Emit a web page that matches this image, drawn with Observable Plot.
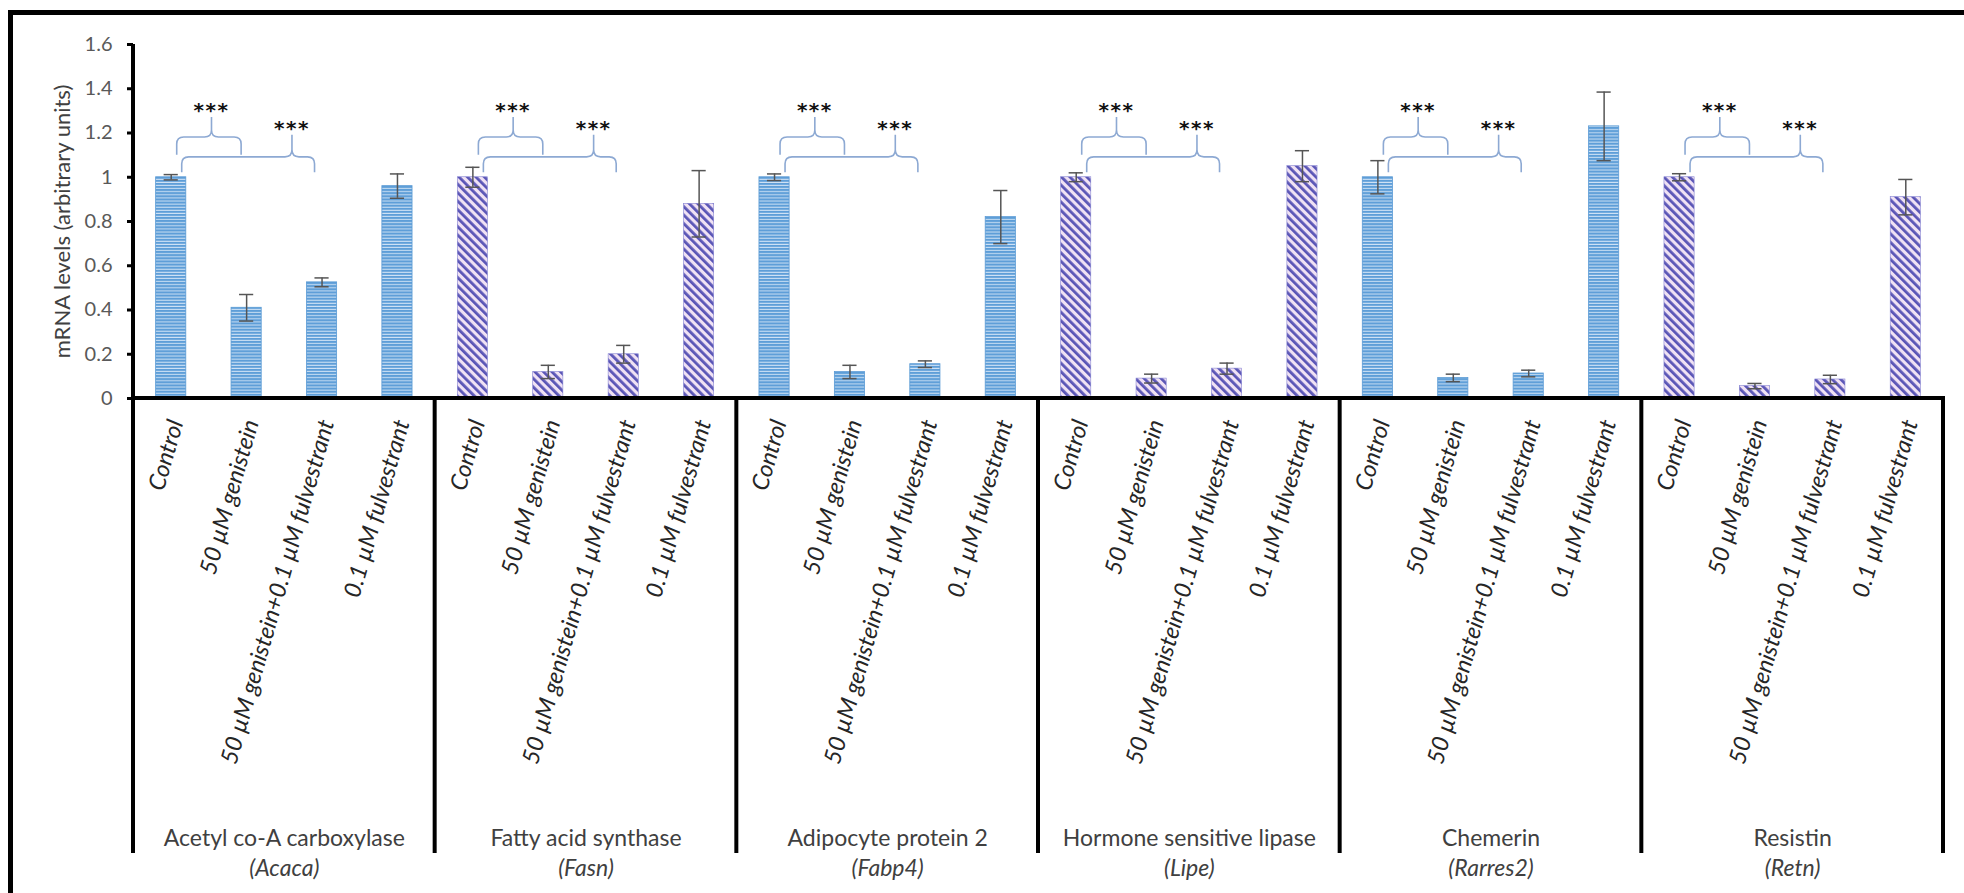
<!DOCTYPE html>
<html>
<head>
<meta charset="utf-8">
<script src="https://cdn.jsdelivr.net/npm/d3@7"></script>
<script src="https://cdn.jsdelivr.net/npm/@observablehq/plot@0.6"></script>
<style>
html, body { margin: 0; padding: 0; background: #fff; }
#wrap { position: relative; width: 1964px; height: 893px; overflow: hidden; }
#wrap svg { position: absolute; left: 0; top: 0; }
#border { position: absolute; left: 8px; top: 10px; width: 1980px; height: 900px;
  border-top: 5px solid #000; border-left: 5px solid #000; pointer-events: none; }
</style>
</head>
<body>
<div id="wrap"><div id="border"></div></div>
<script>
// ---------- data ----------
const genes = ["Acetyl co-A carboxylase", "Fatty acid synthase", "Adipocyte protein 2",
               "Hormone sensitive lipase", "Chemerin", "Resistin"];
const symbols = ["(Acaca)", "(Fasn)", "(Fabp4)", "(Lipe)", "(Rarres2)", "(Retn)"];
const treatments = ["Control", "50 µM genistein", "50 µM genistein+0.1 µM fulvestrant", "0.1 µM fulvestrant"];

// mean mRNA levels (arbitrary units), one array per gene, in treatment order
const acacaMean = [1.00, 0.41, 0.525, 0.96];
const fasnMean  = [1.00, 0.12, 0.20, 0.88];
const fabp4Mean = [1.00, 0.12, 0.155, 0.82];
const lipeMean  = [1.00, 0.09, 0.135, 1.05];
const rarres2Mean = [1.00, 0.093, 0.113, 1.23];
const retnMean  = [1.00, 0.056, 0.086, 0.91];

// error bar half-lengths
const acacaErr = [0.012, 0.06, 0.02, 0.055];
const fasnErr  = [0.045, 0.03, 0.04, 0.15];
const fabp4Err = [0.015, 0.03, 0.015, 0.12];
const lipeErr  = [0.02, 0.02, 0.025, 0.07];
const rarres2Err = [0.075, 0.017, 0.015, 0.155];
const retnErr  = [0.016, 0.012, 0.019, 0.08];

// significance brackets (same in every gene panel)
const comparisonFrom = ["Control", "Control"];
const comparisonTo   = ["50 µM genistein", "50 µM genistein+0.1 µM fulvestrant"];
const significance   = ["***", "***"];

const yTicks = [0, 0.2, 0.4, 0.6, 0.8, 1, 1.2, 1.4, 1.6];
const yTitle = ["mRNA levels (arbitrary units)"];

// ---------- build table ----------
const means = [acacaMean, fasnMean, fabp4Mean, lipeMean, rarres2Mean, retnMean];
const errs  = [acacaErr, fasnErr, fabp4Err, lipeErr, rarres2Err, retnErr];
const rows = [];
genes.forEach((g, gi) => treatments.forEach((t, ti) => rows.push({
  key: g + "|" + t, gene: g, gi, treatment: t, mean: means[gi][ti], err: errs[gi][ti]
})));
const keys = rows.map(d => d.key);
const groupRows = genes.map((g, gi) => ({gene: g, symbol: symbols[gi], gi, key: g + "|" + treatments[1]}));

// ---------- layout ----------
const W = 1964, H = 893;
const mL = 133, mR = 21, mT = 44, mB = 495;
const step = (W - mL - mR) / keys.length;
const frameCenterX = (mL + W - mR) / 2;
const sepBottom = 853;
const labelFont = "Lato, 'Open Sans', sans-serif";

function bw(sx) { return typeof sx.bandwidth === "function" ? sx.bandwidth() : (+sx.bandwidth || 0); }

// pattern definitions
function defsMark() {
  const defs = d3.create("svg:defs");
  const ph = defs.append("pattern").attr("id", "patH").attr("patternUnits", "userSpaceOnUse")
    .attr("width", 8).attr("height", 3.1);
  ph.append("rect").attr("width", 8).attr("height", 3.1).attr("fill", "#5E9ED8");
  ph.append("rect").attr("y", 2.1).attr("width", 8).attr("height", 1).attr("fill", "#CFE2F5");
  const pd = defs.append("pattern").attr("id", "patD").attr("patternUnits", "userSpaceOnUse")
    .attr("width", 6).attr("height", 8).attr("patternTransform", "rotate(-45)");
  pd.append("rect").attr("width", 6).attr("height", 8).attr("fill", "#F0E2F4");
  pd.append("rect").attr("x", 0).attr("width", 2.8).attr("height", 8).attr("fill", "#5A55B6");
  return defs.node();
}

// group separators, x-axis line and y-axis line
function separatorsMark(index, scales) {
  const sx = scales.x, sy = scales.y;
  const b = bw(sx);
  const g = d3.create("svg:g").attr("stroke", "#000").attr("stroke-width", 4);
  const edges = genes.map(gn => sx(gn + "|" + treatments[0]) - (step - b) / 2);
  edges.push(sx(genes[genes.length - 1] + "|" + treatments[3]) + b + (step - b) / 2);
  edges.forEach((x, i) => {
    g.append("line").attr("x1", x).attr("x2", x)
      .attr("y1", i === 0 ? sy(1.6) : sy(0)).attr("y2", sepBottom);
  });
  g.append("line").attr("x1", edges[0] - 2).attr("x2", edges[edges.length - 1] + 2)
    .attr("y1", sy(0)).attr("y2", sy(0));
  return g.node();
}

// curly significance brackets
const bracketLevel = [{h: 1.18, end: 1.10, tip: 1.27, star: 1.325, offL: 6, offR: 5, frac: 0.54},
                      {h: 1.09, end: 1.02, tip: 1.19, star: 1.245, offL: 11, offR: 7, frac: 0.83}];
function bracketsMark(index, scales) {
  const sx = scales.x, sy = scales.y;
  const b = bw(sx);
  const g = d3.create("svg:g");
  const r = 7;
  genes.forEach(gn => {
    comparisonFrom.forEach((from, j) => {
      const L = bracketLevel[j];
      const x0 = sx(gn + "|" + from) + b / 2 + L.offL;
      const x1 = sx(gn + "|" + comparisonTo[j]) + b / 2 - L.offR;
      const xt = x0 + L.frac * (x1 - x0);
      const yH = sy(L.h), yE = sy(L.end), yT = sy(L.tip);
      const p = d3.path();
      p.moveTo(x0, yE); p.lineTo(x0, yH + r); p.quadraticCurveTo(x0, yH, x0 + r, yH);
      p.lineTo(xt - r, yH); p.quadraticCurveTo(xt, yH, xt, yH - r); p.lineTo(xt, yT);
      p.moveTo(xt, yH - r); p.quadraticCurveTo(xt, yH, xt + r, yH);
      p.lineTo(x1 - r, yH); p.quadraticCurveTo(x1, yH, x1, yH + r); p.lineTo(x1, yE);
      g.append("path").attr("d", p.toString()).attr("fill", "none")
        .attr("stroke", "#8DA9D3").attr("stroke-width", 1.6);
      g.append("text").attr("x", xt).attr("y", sy(L.star)).attr("dy", "0.62em")
        .attr("text-anchor", "middle").attr("font-family", "'DejaVu Sans', sans-serif")
        .attr("font-weight", "bold").attr("font-size", 20).attr("fill", "#111")
        .attr("letter-spacing", 1.5).text(significance[j]);
    });
  });
  return g.node();
}

const chart = Plot.plot({
  width: W, height: H,
  marginLeft: mL, marginRight: mR, marginTop: mT, marginBottom: mB,
  style: {background: "transparent", overflow: "visible", fontFamily: labelFont},
  x: {domain: keys, paddingInner: 0.6, paddingOuter: 0.3, round: false, axis: null},
  y: {domain: [0, 1.6], axis: null},
  marks: [
    defsMark,
    Plot.barY(rows.filter(d => d.gi % 2 === 0), {x: "key", y: "mean", fill: "url(#patH)", stroke: "#5B9BD5", strokeWidth: 0.8}),
    Plot.barY(rows.filter(d => d.gi % 2 === 1), {x: "key", y: "mean", fill: "url(#patD)", stroke: "#8583D2", strokeWidth: 0.6}),
    Plot.ruleX(rows, {x: "key", y1: d => d.mean - d.err, y2: d => d.mean + d.err, stroke: "#555", strokeWidth: 1.5}),
    Plot.tickY(rows, {x: "key", y: d => d.mean + d.err, stroke: "#555", strokeWidth: 1.5, insetLeft: 8, insetRight: 8}),
    Plot.tickY(rows, {x: "key", y: d => d.mean - d.err, stroke: "#555", strokeWidth: 1.5, insetLeft: 8, insetRight: 8}),
    Plot.axisY({ticks: yTicks, tickFormat: d => String(d), tickSize: 6, tickPadding: 15,
      stroke: "#000", strokeWidth: 3, fill: "#595959", fontSize: 20, label: null}),
    Plot.text(yTitle, {frameAnchor: "middle", rotate: -90, dx: 62 - frameCenterX,
      textAnchor: "middle", lineAnchor: "middle", fontSize: 22, fill: "#404040"}),
    separatorsMark,
    bracketsMark,
    Plot.text(rows, {x: "key", frameAnchor: "bottom", text: "treatment", rotate: -74,
      textAnchor: "end", lineAnchor: "middle", dx: 5, dy: 22, fontSize: 23.5,
      fontStyle: "italic", fill: "#262626"}),
    Plot.text(groupRows, {x: "key", frameAnchor: "bottom", text: "gene", dx: step / 2, dy: 440,
      lineAnchor: "middle", fontSize: 23, fill: "#404040"}),
    Plot.text(groupRows, {x: "key", frameAnchor: "bottom", text: "symbol", dx: step / 2, dy: 470,
      lineAnchor: "middle", fontSize: 23, fontStyle: "italic", fill: "#404040"})
  ]
});
document.getElementById("wrap").prepend(chart);
</script>
</body>
</html>
